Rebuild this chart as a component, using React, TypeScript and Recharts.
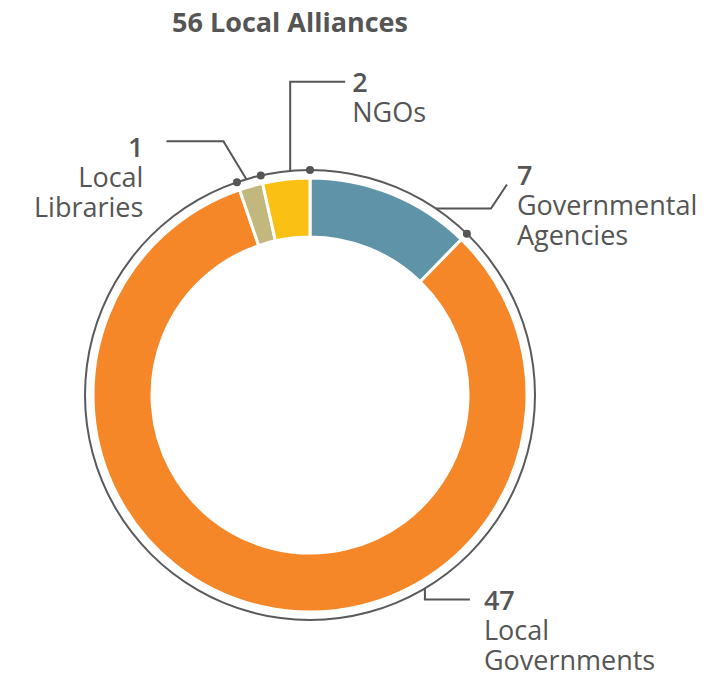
import React from "react";
import { PieChart, Pie, Cell } from "recharts";

const TITLE = "56 Local Alliances";
const categories = ["Governmental Agencies", "Local Governments", "Local Libraries", "NGOs"];
const counts = [7, 47, 1, 2];
const labelWords = [["Governmental", "Agencies"], ["Local", "Governments"], ["Local", "Libraries"], ["NGOs"]];
const colors = ["#5f93a8", "#f58728", "#c2b77c", "#fbc014"];

const data = categories.map((name, i) => ({ name, value: counts[i], words: labelWords[i] }));

const TEXT = "#555555";
const FONT = "'Open Sans', sans-serif";
const RING_R = 225;

// leader layout per segment: anchor fraction within segment, elbow/end offsets, text offset
const leaderLayout = [
  { t: 0.77, elbow: [55, 0], end: [16, -24], text: [10, 0], anchor: "start" },
  { t: 0.354, elbow: [0, 11], end: [45, 0], text: [14, 11], anchor: "start" },
  { t: 0.4, elbow: [-23, -38], end: [-57, 0], text: [-23, 16], anchor: "end" },
  { t: 0.6, elbow: [0, -89], end: [55, 0], text: [7, 10], anchor: "start" },
];

const RAD = Math.PI / 180;
const polar = (cx: number, cy: number, r: number, a: number) => [cx + r * Math.cos(-a * RAD), cy + r * Math.sin(-a * RAD)];

const renderLabel = (props: any) => {
  const { cx, cy, startAngle, endAngle, index, value, payload } = props;
  const L = leaderLayout[index];
  const dot = polar(cx, cy, RING_R, startAngle);
  const a = startAngle + (endAngle - startAngle) * L.t;
  const p0 = polar(cx, cy, RING_R, a);
  const p1 = [p0[0] + L.elbow[0], p0[1] + L.elbow[1]];
  const p2 = [p1[0] + L.end[0], p1[1] + L.end[1]];
  const tx = p2[0] + L.text[0];
  const ty = p2[1] + L.text[1];
  const words: string[] = (payload && payload.words) || labelWords[index];
  return (
    <g key={`lbl-${index}`}>
      <polyline points={`${p0[0]},${p0[1]} ${p1[0]},${p1[1]} ${p2[0]},${p2[1]}`} fill="none" stroke="#555" strokeWidth={2} />
      <circle cx={dot[0]} cy={dot[1]} r={4} fill="#555" />
      <text x={tx} y={ty} textAnchor={L.anchor} fill={TEXT} fontFamily={FONT} fontSize={27}>
        <tspan x={tx} y={ty} fontWeight={600}>{value}</tspan>
        {words.map((w, i) => (
          <tspan key={i} x={tx} y={ty + 30 * (i + 1)}>{w}</tspan>
        ))}
      </text>
    </g>
  );
};

export default function App() {
  return (
    <div style={{ position: "absolute", left: 0, top: 0, width: 725, height: 678, background: "#fff" }}>
      <div
        style={{
          position: "absolute",
          left: 0,
          top: 3,
          width: 580,
          textAlign: "center",
          fontFamily: FONT,
          fontWeight: 700,
          fontSize: 27,
          color: TEXT,
        }}
      >
        {TITLE}
      </div>
      <PieChart
        width={725}
        height={678}
        margin={{ top: 0, right: 0, bottom: 0, left: 0 }}
        style={{ position: "absolute", left: 0, top: 0 }}
      >
        <Pie
          data={[{ name: "ring", value: 1 }]}
          dataKey="value"
          cx={310}
          cy={395}
          innerRadius={224}
          outerRadius={226}
          startAngle={90}
          endAngle={-270}
          fill="#5a5a5a"
          stroke="none"
          isAnimationActive={false}
        />
        <Pie
          data={data}
          dataKey="value"
          cx={310}
          cy={395}
          innerRadius={158}
          outerRadius={217}
          startAngle={90}
          endAngle={-270}
          stroke="#ffffff"
          strokeWidth={3}
          label={renderLabel}
          labelLine={false}
          isAnimationActive={false}
        >
          {data.map((d, i) => (
            <Cell key={d.name} fill={colors[i]} />
          ))}
        </Pie>
      </PieChart>
    </div>
  );
}
